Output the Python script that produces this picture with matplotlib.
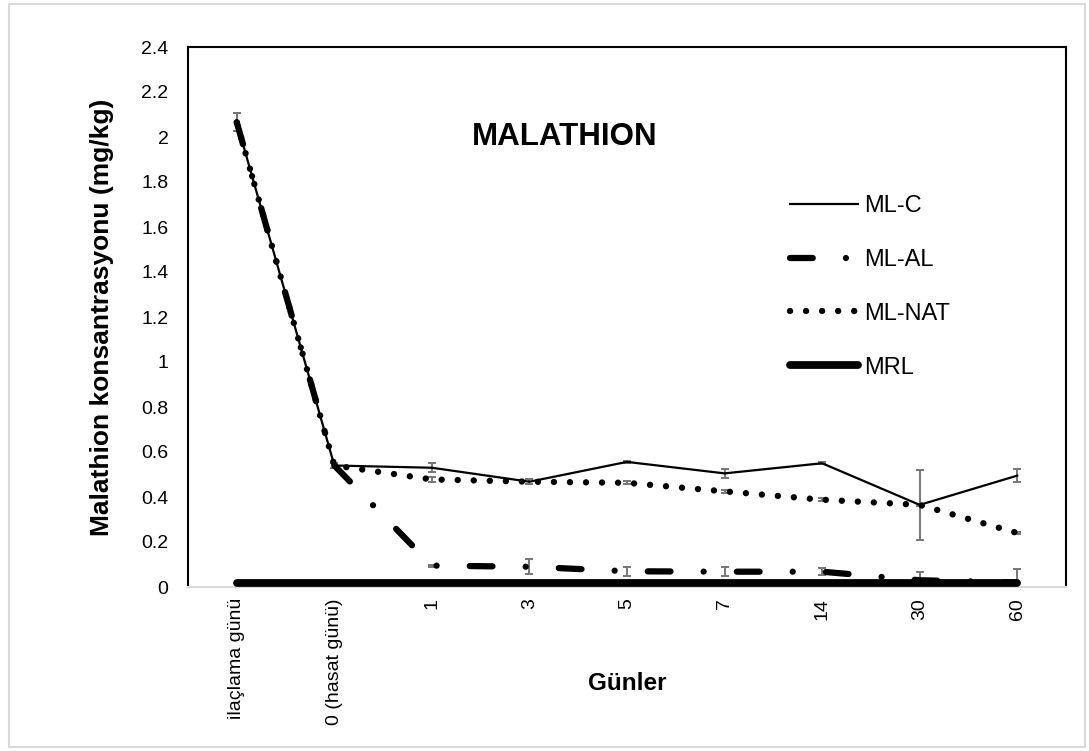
import numpy as np
import matplotlib
matplotlib.use('Agg')
import matplotlib.pyplot as plt
from matplotlib.patches import Rectangle

plt.rcParams['font.family'] = ['Liberation Sans', 'DejaVu Sans']

# Data
days = ['ilaçlama günü', '0 (hasat günü)', '1', '3', '5', '7', '14', '30', '60']
ml_c = [2.065, 0.54, 0.53, 0.468, 0.556, 0.505, 0.55, 0.365, 0.495]
ml_c_err = [0.04, 0.01, 0.02, 0.012, 0.005, 0.02, 0.005, 0.155, 0.03]
ml_al = [2.065, 0.54, 0.095, 0.09, 0.07, 0.068, 0.068, 0.03, 0.02]
ml_al_err = [0.04, 0.01, 0.005, 0.033, 0.02, 0.02, 0.015, 0.035, 0.06]
ml_nat = [2.065, 0.54, 0.478, 0.468, 0.463, 0.425, 0.388, 0.365, 0.24]
ml_nat_err = [0.04, 0.01, 0.012, 0.01, 0.006, 0.006, 0.006, 0.005, 0.005]
mrl = [0.02, 0.02, 0.02, 0.02, 0.02, 0.02, 0.02, 0.02, 0.02]

x = np.arange(len(days))
err_color = '#767676'

fig = plt.figure(figsize=(10.89, 7.51), dpi=100)
ax = fig.add_axes([188/1089, 1-587/751, 878/1089, 540/751])

# error bars
for vals, errs in [(ml_c, ml_c_err), (ml_al, ml_al_err), (ml_nat, ml_nat_err)]:
    ax.errorbar(x, vals, yerr=errs, fmt='none', ecolor=err_color, elinewidth=1.4,
                capsize=3.2, capthick=1.4, zorder=2)

ax.plot(x, ml_c, color='black', lw=1.6, label='ML-C', zorder=3)
ax.plot(x, ml_al, color='black', lw=4.5, dashes=(3.64, 5.3, 0.01, 5.3),
        dash_capstyle='round', solid_capstyle='round', label='ML-AL', zorder=4)
ax.plot(x, ml_nat, color='black', lw=4.6, dashes=(0.01, 2.5),
        dash_capstyle='round', label='ML-NAT', zorder=4)
ax.plot(x, mrl, color='black', lw=5.6, solid_capstyle='round', label='MRL', zorder=5)

ax.set_xlim(-0.5, len(days) - 0.5)
ax.set_ylim(0, 2.4)
yt = np.round(np.arange(0, 2.41, 0.2), 1)
ax.set_yticks(yt)
ax.set_yticklabels([f'{v:g}' for v in yt])
ax.set_xticks(x)
ax.set_xticklabels(days, rotation=90)
ax.tick_params(axis='y', length=0, pad=14, labelsize=14)
ax.tick_params(axis='x', length=0, pad=8, labelsize=14)

for s in ['left', 'top', 'right']:
    ax.spines[s].set_color('black')
    ax.spines[s].set_linewidth(1.5)
ax.spines['bottom'].set_color('#d9d9d9')
ax.spines['bottom'].set_linewidth(1.5)

ax.set_ylabel('Malathion konsantrasyonu (mg/kg)', fontsize=19, fontweight='bold')
ax.yaxis.set_label_coords(-0.084, 0.5)
ax.set_xlabel('Günler', fontsize=17.5, fontweight='bold')
ax.xaxis.set_label_coords(0.5, -0.158)

ax.text(0.429, 0.833, 'MALATHION', transform=ax.transAxes, ha='center', va='center',
        fontsize=22.5, fontweight='bold')

ax.legend(loc='upper left', bbox_to_anchor=(790/1089, 1-195/751),
          bbox_transform=fig.transFigure, frameon=False, fontsize=17,
          handlelength=2.9, handletextpad=0.25, labelspacing=1.35,
          borderpad=0, borderaxespad=0)

fig.patches.append(Rectangle((9/1089, 4/751), 1076/1089, 743/751, transform=fig.transFigure,
                             fill=False, edgecolor='#d9d9d9', lw=1.5))

fig.savefig('out.png', dpi=100)
